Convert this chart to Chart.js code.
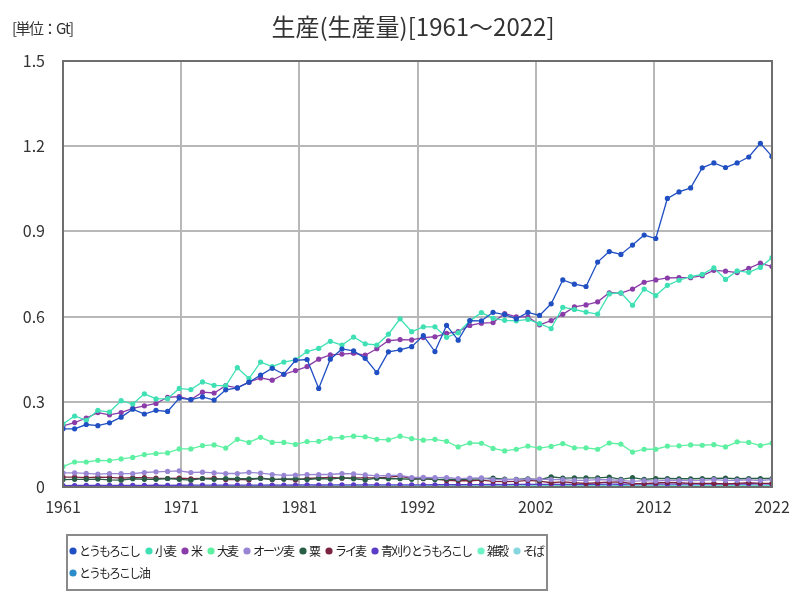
<!DOCTYPE html>
<html lang="ja">
<head>
<meta charset="utf-8">
<script src="https://cdn.jsdelivr.net/npm/chart.js@4.4.1/dist/chart.umd.min.js"></script>
<style>
  html, body { margin: 0; padding: 0; background: #fff; }
  #wrap { width: 800px; height: 600px; position: relative; }
</style>
</head>
<body>
<div id="wrap"><canvas id="chart" width="800" height="600"></canvas></div>
<script>
// ---------------- DATA (Gt) ----------------
const years = [
  1961, 1962, 1963, 1964, 1965, 1966, 1967, 1968, 1969, 1970,
  1971, 1972, 1973, 1974, 1975, 1976, 1977, 1978, 1979, 1980,
  1981, 1982, 1983, 1984, 1985, 1986, 1987, 1988, 1989, 1990,
  1991, 1992, 1993, 1994, 1995, 1996, 1997, 1998, 1999, 2000,
  2001, 2002, 2003, 2004, 2005, 2006, 2007, 2008, 2009, 2010,
  2011, 2012, 2013, 2014, 2015, 2016, 2017, 2018, 2019, 2020,
  2021, 2022
];

const xTickLabels = ["1961", "1971", "1981", "1992", "2002", "2012", "2022"];
const yTickLabels = ["0", "0.3", "0.6", "0.9", "1.2", "1.5"];

const seriesNames = ["とうもろこし", "小麦", "米", "大麦", "オーツ麦", "粟", "ライ麦", "青刈りとうもろこし", "雑穀", "そば", "とうもろこし油"];
const seriesColors = ["#1f4fc2", "#3ee0b4", "#8a3ca8", "#5ef0a2", "#9886d4", "#285e46", "#7a2442", "#5a3cc8", "#6cf4c6", "#86d6e0", "#2a8cc8"];

const maize = [
  0.205, 0.205, 0.220, 0.216, 0.226, 0.246, 0.274, 0.257, 0.270, 0.266,
  0.313, 0.308, 0.317, 0.306, 0.342, 0.349, 0.369, 0.394, 0.418, 0.397,
  0.446, 0.449, 0.347, 0.450, 0.486, 0.479, 0.453, 0.403, 0.476, 0.483,
  0.494, 0.533, 0.477, 0.569, 0.517, 0.586, 0.585, 0.615, 0.607, 0.592,
  0.615, 0.604, 0.645, 0.729, 0.714, 0.706, 0.792, 0.829, 0.819, 0.852,
  0.887, 0.875, 1.016, 1.039, 1.053, 1.124, 1.141, 1.125, 1.141, 1.162,
  1.210, 1.164
];
const wheat = [
  0.222, 0.250, 0.235, 0.270, 0.264, 0.304, 0.292, 0.328, 0.310, 0.311,
  0.347, 0.343, 0.370, 0.358, 0.356, 0.420, 0.382, 0.440, 0.424, 0.440,
  0.448, 0.477, 0.488, 0.513, 0.500, 0.528, 0.504, 0.500, 0.538, 0.592,
  0.547, 0.564, 0.564, 0.527, 0.543, 0.585, 0.614, 0.594, 0.587, 0.585,
  0.590, 0.575, 0.558, 0.633, 0.625, 0.616, 0.609, 0.680, 0.684, 0.640,
  0.697, 0.674, 0.710, 0.728, 0.741, 0.749, 0.772, 0.731, 0.761, 0.756,
  0.773, 0.808
];
const rice = [
  0.215, 0.227, 0.243, 0.262, 0.254, 0.262, 0.277, 0.286, 0.294, 0.316,
  0.318, 0.308, 0.334, 0.331, 0.357, 0.349, 0.369, 0.384, 0.376, 0.397,
  0.410, 0.424, 0.450, 0.465, 0.468, 0.471, 0.464, 0.487, 0.515, 0.519,
  0.518, 0.526, 0.529, 0.541, 0.547, 0.569, 0.577, 0.579, 0.611, 0.599,
  0.599, 0.571, 0.586, 0.608, 0.634, 0.641, 0.652, 0.684, 0.683, 0.697,
  0.721, 0.729, 0.736, 0.737, 0.737, 0.744, 0.763, 0.760, 0.755, 0.770,
  0.788, 0.776
];
const barley = [
  0.072, 0.088, 0.088, 0.094, 0.093, 0.099, 0.104, 0.114, 0.118, 0.120,
  0.134, 0.134, 0.146, 0.148, 0.137, 0.168, 0.157, 0.175, 0.157, 0.157,
  0.150, 0.160, 0.161, 0.172, 0.175, 0.179, 0.177, 0.168, 0.166, 0.179,
  0.170, 0.165, 0.168, 0.161, 0.141, 0.155, 0.154, 0.136, 0.127, 0.133,
  0.144, 0.137, 0.143, 0.153, 0.138, 0.138, 0.133, 0.155, 0.151, 0.123,
  0.133, 0.133, 0.144, 0.145, 0.148, 0.147, 0.149, 0.141, 0.159, 0.157,
  0.146, 0.155
];
const oats = [
  0.0496, 0.0497, 0.0477, 0.0456, 0.0469, 0.0468, 0.0473, 0.0510, 0.0536, 0.0548,
  0.0568, 0.0510, 0.0522, 0.0497, 0.0476, 0.0475, 0.0516, 0.0489, 0.0441, 0.0410,
  0.0422, 0.0439, 0.0441, 0.0440, 0.0476, 0.0459, 0.0426, 0.0392, 0.0409, 0.0406,
  0.0334, 0.0339, 0.0327, 0.0335, 0.0296, 0.0316, 0.0319, 0.0263, 0.0255, 0.0260,
  0.0271, 0.0274, 0.0263, 0.0258, 0.0236, 0.0232, 0.0258, 0.0256, 0.0231, 0.0196,
  0.0226, 0.0210, 0.0239, 0.0228, 0.0227, 0.0230, 0.0259, 0.0232, 0.0231, 0.0252,
  0.0226, 0.0263
];
const millet = [
  0.026, 0.027, 0.027, 0.028, 0.025, 0.024, 0.029, 0.027, 0.027, 0.030,
  0.027, 0.024, 0.030, 0.027, 0.030, 0.029, 0.029, 0.030, 0.027, 0.028,
  0.029, 0.026, 0.030, 0.028, 0.032, 0.029, 0.025, 0.031, 0.029, 0.029,
  0.027, 0.030, 0.026, 0.028, 0.026, 0.028, 0.029, 0.031, 0.028, 0.027,
  0.029, 0.025, 0.036, 0.031, 0.032, 0.032, 0.032, 0.035, 0.027, 0.033,
  0.027, 0.030, 0.030, 0.029, 0.029, 0.030, 0.030, 0.031, 0.029, 0.030,
  0.030, 0.030
];
const rye = [
  0.0351, 0.0345, 0.0330, 0.0345, 0.0339, 0.0310, 0.0330, 0.0330, 0.0310, 0.0300,
  0.0310, 0.0290, 0.0300, 0.0310, 0.0260, 0.0270, 0.0250, 0.0320, 0.0260, 0.0280,
  0.0250, 0.0300, 0.0320, 0.0340, 0.0310, 0.0320, 0.0320, 0.0320, 0.0350, 0.0380,
  0.0300, 0.0290, 0.0280, 0.0230, 0.0220, 0.0220, 0.0240, 0.0200, 0.0190, 0.0200,
  0.0230, 0.0210, 0.0150, 0.0180, 0.0150, 0.0130, 0.0150, 0.0170, 0.0180, 0.0120,
  0.0120, 0.0140, 0.0160, 0.0150, 0.0130, 0.0130, 0.0130, 0.0110, 0.0130, 0.0150,
  0.0130, 0.0130
];
const greenMaize = [
  0.0050, 0.0052, 0.0054, 0.0053, 0.0056, 0.0058, 0.0057, 0.0059, 0.0061, 0.0060,
  0.0062, 0.0064, 0.0063, 0.0066, 0.0065, 0.0067, 0.0068, 0.0067, 0.0070, 0.0069,
  0.0071, 0.0072, 0.0070, 0.0073, 0.0074, 0.0073, 0.0075, 0.0074, 0.0077, 0.0076,
  0.0078, 0.0077, 0.0079, 0.0081, 0.0080, 0.0084, 0.0085, 0.0088, 0.0087, 0.0090,
  0.0091, 0.0090, 0.0093, 0.0095, 0.0094, 0.0096, 0.0095, 0.0098, 0.0097, 0.0099,
  0.0100, 0.0098, 0.0101, 0.0103, 0.0102, 0.0104, 0.0103, 0.0105, 0.0104, 0.0106,
  0.0107, 0.0105
];
const cerealsOther = [
  0.0042, 0.0043, 0.0041, 0.0044, 0.0040, 0.0042, 0.0043, 0.0041, 0.0040, 0.0039,
  0.0041, 0.0038, 0.0040, 0.0039, 0.0037, 0.0038, 0.0036, 0.0037, 0.0035, 0.0034,
  0.0036, 0.0035, 0.0034, 0.0036, 0.0037, 0.0035, 0.0034, 0.0033, 0.0035, 0.0036,
  0.0034, 0.0033, 0.0032, 0.0031, 0.0030, 0.0032, 0.0031, 0.0030, 0.0029, 0.0030,
  0.0031, 0.0030, 0.0032, 0.0033, 0.0031, 0.0030, 0.0032, 0.0034, 0.0033, 0.0031,
  0.0032, 0.0033, 0.0034, 0.0035, 0.0034, 0.0036, 0.0035, 0.0037, 0.0036, 0.0038,
  0.0037, 0.0036
];
const buckwheat = [
  0.0025, 0.0027, 0.0026, 0.0028, 0.0030, 0.0032, 0.0031, 0.0029, 0.0030, 0.0033,
  0.0034, 0.0035, 0.0036, 0.0037, 0.0036, 0.0035, 0.0034, 0.0033, 0.0032, 0.0031,
  0.0030, 0.0029, 0.0031, 0.0032, 0.0030, 0.0029, 0.0030, 0.0031, 0.0032, 0.0033,
  0.0034, 0.0035, 0.0033, 0.0032, 0.0031, 0.0029, 0.0030, 0.0029, 0.0028, 0.0027,
  0.0026, 0.0027, 0.0026, 0.0025, 0.0024, 0.0023, 0.0024, 0.0025, 0.0023, 0.0019,
  0.0021, 0.0024, 0.0025, 0.0023, 0.0026, 0.0024, 0.0036, 0.0029, 0.0023, 0.0029,
  0.0031, 0.0027
];
const maizeOil = [
  0.0010, 0.0011, 0.0011, 0.0012, 0.0012, 0.0013, 0.0013, 0.0014, 0.0014, 0.0015,
  0.0015, 0.0016, 0.0016, 0.0017, 0.0017, 0.0018, 0.0018, 0.0019, 0.0020, 0.0021,
  0.0022, 0.0022, 0.0023, 0.0024, 0.0025, 0.0026, 0.0026, 0.0027, 0.0028, 0.0029,
  0.0029, 0.0030, 0.0030, 0.0031, 0.0032, 0.0032, 0.0033, 0.0033, 0.0034, 0.0034,
  0.0035, 0.0035, 0.0036, 0.0037, 0.0037, 0.0038, 0.0038, 0.0039, 0.0039, 0.0040,
  0.0040, 0.0041, 0.0041, 0.0042, 0.0042, 0.0043, 0.0043, 0.0044, 0.0044, 0.0045,
  0.0045, 0.0046
];

const seriesValues = [maize, wheat, rice, barley, oats, millet, rye, greenMaize, cerealsOther, buckwheat, maizeOil];

// ---------------- TITLE / FRAME / LEGEND ----------------
const FONT = "'Noto Sans CJK JP', 'Noto Sans', sans-serif";

const decorPlugin = {
  id: "decor",
  afterDraw(chart) {
    const ctx = chart.ctx;
    const area = chart.chartArea;
    ctx.save();

    // frame around the plot
    ctx.strokeStyle = "#6e6e6e";
    ctx.lineWidth = 2;
    ctx.strokeRect(area.left, area.top, area.right - area.left, area.bottom - area.top);

    // title + unit
    ctx.fillStyle = "#333";
    ctx.textBaseline = "middle";
    ctx.textAlign = "center";
    ctx.font = "24px " + FONT;
    ctx.fillText("生産(生産量)[1961〜2022]", 413, 27);
    ctx.textAlign = "left";
    ctx.font = "15px " + FONT;
    ctx.letterSpacing = "-1.5px";
    ctx.fillText("[単位：Gt]", 12, 28);

    // legend box
    const box = { x: 67, y: 535, w: 480, h: 55 };
    ctx.strokeStyle = "#8a8a8a";
    ctx.lineWidth = 2;
    ctx.strokeRect(box.x, box.y, box.w, box.h);

    ctx.font = "12px " + FONT;
    ctx.letterSpacing = "-2px";
    let x = box.x + 2;
    let row = 0;
    chart.data.datasets.forEach(ds => {
      const tw = ctx.measureText(ds.label).width;
      const itemW = 9 + tw;
      if (x + itemW > box.x + box.w - 2) {
        row++;
        x = box.x + 2;
      }
      const cy = box.y + 16 + row * 22;
      ctx.beginPath();
      ctx.arc(x + 4, cy, 3.6, 0, Math.PI * 2);
      ctx.fillStyle = ds.borderColor;
      ctx.fill();
      ctx.fillStyle = "#222";
      ctx.fillText(ds.label, x + 10, cy);
      x += itemW + 7;
    });

    ctx.restore();
  }
};

// ---------------- CHART ----------------
new Chart(document.getElementById("chart"), {
  type: "line",
  data: {
    datasets: seriesNames.map((name, i) => ({
      label: name,
      data: years.map((yr, j) => ({ x: yr, y: seriesValues[i][j] })),
      borderColor: seriesColors[i],
      backgroundColor: seriesColors[i],
      borderWidth: 1.3,
      pointRadius: 2.6,
      pointBorderWidth: 0,
      tension: 0,
      fill: false
    }))
  },
  options: {
    responsive: false,
    animation: false,
    layout: { padding: { left: 0, right: 28, top: 61, bottom: 80 } },
    plugins: {
      legend: { display: false },
      title: { display: false },
      tooltip: { enabled: false }
    },
    scales: {
      x: {
        type: "linear",
        min: 1961,
        max: 2022,
        afterBuildTicks: (axis) => {
          axis.ticks = xTickLabels.map((_, k) => ({ value: 1961 + (2022 - 1961) * k / (xTickLabels.length - 1) }));
        },
        afterFit: (scale) => { scale.height = 33; },
        ticks: {
          autoSkip: false,
          maxRotation: 0,
          padding: 10,
          color: "#333",
          font: { family: FONT, size: 16 },
          callback: (v, idx) => xTickLabels[idx]
        },
        grid: { color: "#b8b8b8", lineWidth: 2, drawTicks: false },
        border: { display: false }
      },
      y: {
        min: 0,
        max: 1.5,
        afterBuildTicks: (axis) => {
          axis.ticks = yTickLabels.map(t => ({ value: parseFloat(t) }));
        },
        afterFit: (scale) => { scale.width = 63; },
        ticks: {
          padding: 18,
          color: "#333",
          font: { family: FONT, size: 16 },
          callback: (v, idx) => yTickLabels[idx]
        },
        grid: { color: "#b8b8b8", lineWidth: 2, drawTicks: false },
        border: { display: false }
      }
    }
  },
  plugins: [decorPlugin]
});
</script>
</body>
</html>
